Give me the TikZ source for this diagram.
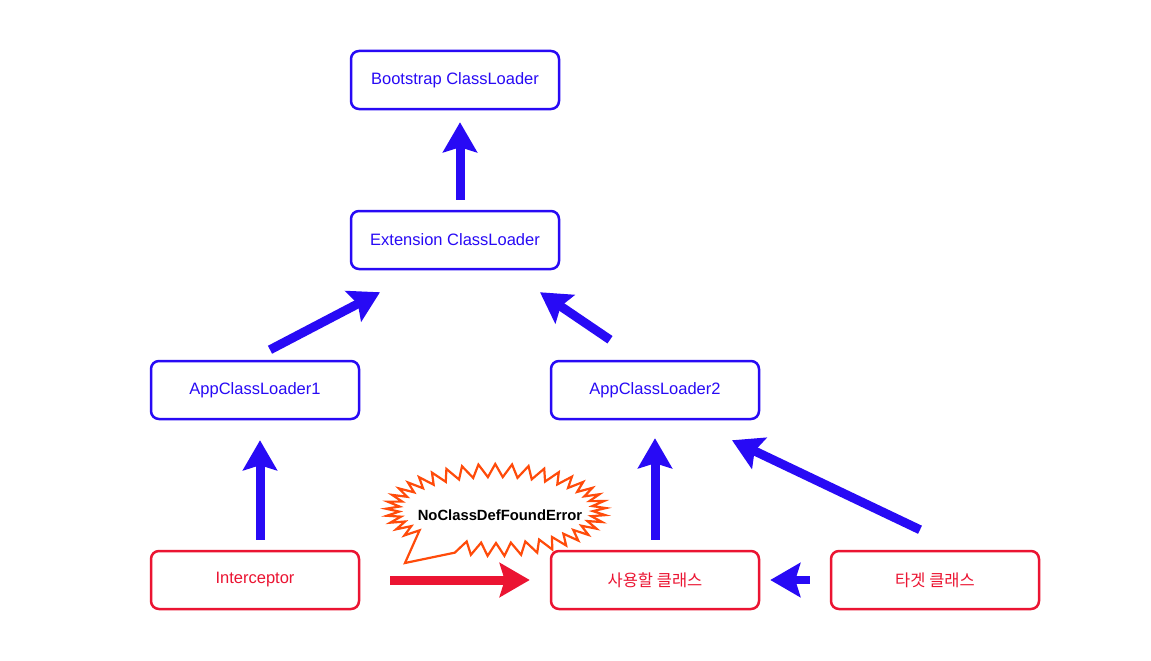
\documentclass[tikz,border=0pt]{standalone}
\usepackage{fontspec}
\setmainfont{Liberation Sans}
\newfontfamily\krfont{Noto Sans CJK KR}
\usetikzlibrary{arrows.meta,calc}
\definecolor{cblue}{RGB}{40,10,245}
\definecolor{cred}{RGB}{235,20,50}
\definecolor{corange}{RGB}{255,75,10}
\begin{document}
\begin{tikzpicture}[x=1pt,y=-1pt,
  box/.style={draw, line width=2.5pt, rounded corners=8pt, minimum width=208pt, minimum height=58pt, font=\fontsize{16.5}{19}\selectfont, inner sep=0pt, fill=white},
  bbox/.style={box, draw=cblue, text=cblue},
  rbox/.style={box, draw=cred, text=cred},
  barrow/.style={draw=cblue, line width=9pt, -{Stealth[length=30pt,width=34pt,inset=5pt]}},
  rarrow/.style={draw=cred, line width=9pt, -{Stealth[length=30pt,width=34pt,inset=5pt]}}]
\useasboundingbox (0,0) rectangle (1151,661);
\fill[white] (0,0) rectangle (1151,661);

\node[bbox] (boot) at (455,80) {Bootstrap ClassLoader};
\node[bbox] (ext) at (455,240) {Extension ClassLoader};
\node[bbox] (app1) at (255,390) {AppClassLoader1};
\node[bbox] (app2) at (655,390) {AppClassLoader2};
\node[rbox] (inter) at (255,580) {Interceptor};
\node[rbox] (use) at (655,580) {\krfont 사용할 클래스};
\node[rbox] (tgt) at (935,580) {\krfont 타겟 클래스};

% burst
\coordinate (bt) at (405,563);
\draw[corange, line width=2.2pt, fill=white, line join=miter]
  plot[domain=142:472, samples=76, variable=\t]
  ({496+(97+13*mod(round((\t-142)/4.4),2))*cos(\t)}, {510+(33+13*mod(round((\t-142)/4.4),2))*sin(\t)})
  -- (bt) -- cycle;
\node[font=\bfseries\fontsize{14.8}{17}\selectfont, inner sep=0pt] (err) at (500,515) {NoClassDefFoundError};

% arrows
\draw[barrow] ($(ext.north)+(5,-10)$) -- ($(boot.south)+(5,12)$);
\draw[barrow] ($(app1.north)+(15,-10)$) -- ($(ext.south)+(-75,22)$);
\draw[barrow] ($(app2.north)+(-45,-20)$) -- ($(ext.south)+(85,22)$);
\draw[barrow] ($(inter.north)+(5,-10)$) -- ($(app1.south)+(5,20)$);
\draw[barrow] ($(use.north)+(0,-10)$) -- ($(app2.south)+(0,18)$);
\draw[barrow] ($(tgt.north)+(-15,-20)$) -- ($(app2.south)+(77,20)$);
\draw[barrow, line width=8pt] ($(tgt.west)+(-20,0)$) -- ($(use.east)+(10,0)$);
\draw[rarrow] ($(inter.east)+(30,0)$) -- ($(use.west)+(-20,0)$);
\end{tikzpicture}
\end{document}
